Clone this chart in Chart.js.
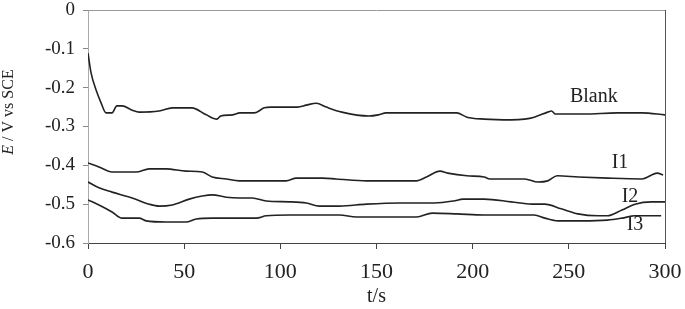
<!DOCTYPE html>
<html>
<head>
<meta charset="utf-8">
<script src="https://cdn.jsdelivr.net/npm/chart.js@4.4.0/dist/chart.umd.min.js"></script>
<style>
  html, body { margin: 0; padding: 0; background: #fff; }
  #wrap { width: 685px; height: 309px; }
</style>
</head>
<body>
<div id="wrap"><canvas id="potChart"></canvas></div>
<script>
// open circuit potential vs time
const blankT = [0, 1.6, 4.2, 6.8, 9.4, 12.5, 15, 17.7, 23, 26.6, 37, 43.8, 54, 61.5, 67, 69, 75, 79, 86.5, 91.7, 95, 108.9, 113.5, 118.7, 123.9, 132, 146, 151, 155, 191.7, 197, 206, 220, 227, 232, 239, 241, 243, 258, 275, 288, 300];
const blankE = [-0.111, -0.162, -0.206, -0.239, -0.265, -0.265, -0.247, -0.247, -0.258, -0.263, -0.26, -0.252, -0.252, -0.27, -0.281, -0.273, -0.27, -0.265, -0.265, -0.252, -0.25, -0.25, -0.245, -0.24, -0.25, -0.263, -0.273, -0.27, -0.265, -0.265, -0.276, -0.281, -0.283, -0.281, -0.276, -0.263, -0.26, -0.268, -0.268, -0.265, -0.265, -0.27];

const i1T = [0, 5.7, 12.5, 25, 31.8, 40.6, 51, 59.4, 64.6, 71.9, 78.6, 103, 108.3, 121.9, 129, 144.8, 170.8, 176, 183, 187, 197, 206, 208.9, 227, 234, 239, 244, 255, 270.3, 288, 296, 299];
const i1E = [-0.394, -0.404, -0.417, -0.417, -0.409, -0.409, -0.415, -0.417, -0.43, -0.435, -0.44, -0.44, -0.433, -0.433, -0.435, -0.44, -0.44, -0.43, -0.415, -0.42, -0.427, -0.43, -0.435, -0.435, -0.443, -0.44, -0.427, -0.43, -0.433, -0.435, -0.42, -0.425];

const i2T = [0, 5.7, 12.5, 22.9, 31.8, 37, 43.8, 52.6, 59.4, 64.6, 71.9, 78.6, 85.4, 92.7, 104.7, 113.5, 120.3, 130.7, 144.8, 162, 180, 190, 195, 206, 220, 230.7, 237.5, 246, 254.7, 265, 270, 277.6, 284.4, 293, 300];
const i2E = [-0.443, -0.458, -0.469, -0.484, -0.5, -0.505, -0.502, -0.487, -0.479, -0.476, -0.482, -0.484, -0.484, -0.492, -0.494, -0.497, -0.505, -0.505, -0.5, -0.497, -0.497, -0.492, -0.487, -0.487, -0.494, -0.5, -0.5, -0.512, -0.525, -0.53, -0.53, -0.515, -0.5, -0.494, -0.494];

const i3T = [0, 5.7, 12.5, 17.7, 26.6, 30.2, 40.6, 51, 56.3, 64.6, 78.6, 87.5, 92.7, 104.7, 130.7, 139.6, 170.8, 179, 191.7, 206, 232, 237.5, 244.3, 256.8, 270, 277.6, 284.4, 298];
const i3E = [-0.489, -0.502, -0.52, -0.536, -0.536, -0.543, -0.546, -0.546, -0.538, -0.536, -0.536, -0.536, -0.53, -0.528, -0.528, -0.533, -0.533, -0.523, -0.525, -0.528, -0.528, -0.536, -0.543, -0.543, -0.541, -0.536, -0.53, -0.53];

const seriesNames = ['Blank', 'I1', 'I2', 'I3'];
// where each curve name sits, in data units (t, E)
const nameT = [263, 276.6, 281.8, 284.4];
const nameE = [-0.224, -0.394, -0.4815, -0.554];

const xTicks = [0, 50, 100, 150, 200, 250, 300];

function zip(ts, es) {
    return ts.map((t, i) => ({ x: t, y: es[i] }));
}

const serif = 'Liberation Serif, Times New Roman, serif';

const frameAndLabels = {
    id: 'frameAndLabels',
    afterDatasetsDraw(chart) {
        const ctx = chart.ctx;
        const a = chart.chartArea;
        const xs = chart.scales.x, ys = chart.scales.y;
        ctx.save();
        // top and right border of the plot box
        ctx.lineWidth = 1;
        ctx.strokeStyle = '#999';
        ctx.beginPath();
        ctx.moveTo(a.left, a.top + 0.5);
        ctx.lineTo(a.right, a.top + 0.5);
        ctx.stroke();
        ctx.strokeStyle = '#555';
        ctx.beginPath();
        ctx.moveTo(a.right + 0.5, a.top);
        ctx.lineTo(a.right + 0.5, a.bottom);
        ctx.stroke();

        // curve names
        ctx.fillStyle = '#222';
        ctx.font = '20px ' + serif;
        ctx.textAlign = 'center';
        ctx.textBaseline = 'middle';
        for (let i = 0; i < seriesNames.length; i++) {
            ctx.fillText(seriesNames[i], xs.getPixelForValue(nameT[i]), ys.getPixelForValue(nameE[i]));
        }

        // y axis title, "E" in italics
        ctx.translate(9, 112);
        ctx.rotate(-Math.PI / 2);
        ctx.textAlign = 'left';
        const f1 = 'italic 16px ' + serif, f2 = '16px ' + serif;
        const rest = ' / V vs SCE';
        ctx.font = f1;
        const w1 = ctx.measureText('E').width;
        ctx.font = f2;
        const w2 = ctx.measureText(rest).width;
        let x0 = -(w1 + w2) / 2;
        ctx.font = f1;
        ctx.fillText('E', x0, 0);
        ctx.font = f2;
        ctx.fillText(rest, x0 + w1, 0);
        ctx.restore();
    }
};

const colors = ['#222', '#222', '#222', '#222'];
const allT = [blankT, i1T, i2T, i3T];
const allE = [blankE, i1E, i2E, i3E];

const data = {
    datasets: seriesNames.map((n, i) => ({
        label: n,
        data: zip(allT[i], allE[i]),
        borderColor: colors[i],
        borderWidth: 1.6,
        pointRadius: 0,
        cubicInterpolationMode: 'monotone',
        fill: false
    }))
};

const config = {
    type: 'line',
    data: data,
    options: {
        responsive: true,
        maintainAspectRatio: false,
        animation: false,
        layout: { padding: { top: 10, right: 0, left: 0, bottom: 0 } },
        plugins: {
            legend: { display: false },
            tooltip: { enabled: false }
        },
        scales: {
            x: {
                type: 'linear',
                min: 0,
                max: 300,
                afterBuildTicks: s => { s.ticks = xTicks.map(v => ({ value: v })); },
                afterFit: s => { s.height = 66; s.paddingRight = 20; s.paddingLeft = 0; },
                grid: { drawOnChartArea: false, tickLength: 6, color: '#444' },
                border: { color: '#444', width: 1 },
                ticks: { color: '#222', padding: 10, font: { family: serif, size: 22 } },
                title: {
                    display: true,
                    text: 't/s',
                    color: '#222',
                    padding: { top: 0, bottom: 0 },
                    font: { family: serif, size: 20 }
                }
            },
            y: {
                min: -0.6,
                max: 0,
                afterFit: s => { s.width = 88; s.paddingTop = 0; s.paddingBottom = 0; },
                grid: { drawOnChartArea: false, tickLength: 5, color: '#888' },
                border: { color: '#aaa', width: 1 },
                ticks: { stepSize: 0.1, color: '#222', padding: 8, font: { family: serif, size: 19 } }
            }
        }
    },
    plugins: [frameAndLabels]
};

let ctx = document.getElementById('potChart').getContext('2d');
new Chart(ctx, config);
</script>
</body>
</html>
